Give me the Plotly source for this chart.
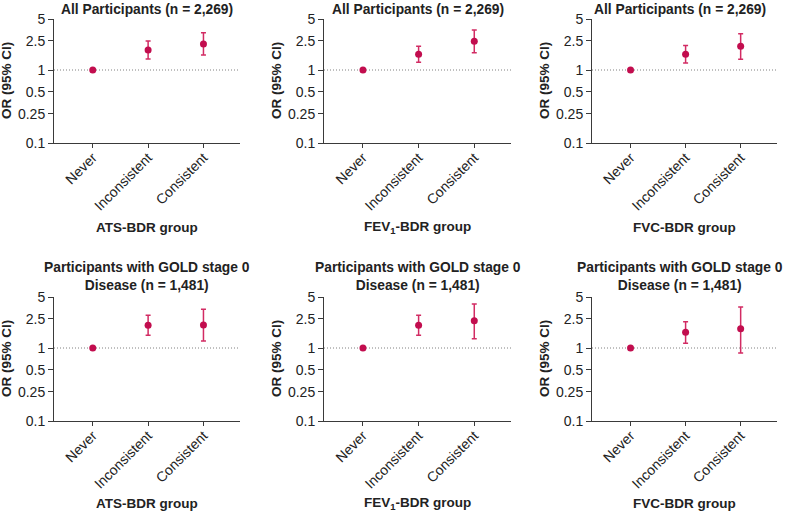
import plotly.graph_objects as go

groups = ["Never", "Inconsistent", "Consistent"]

panel_titles = [
    "All Participants (n = 2,269)",
    "All Participants (n = 2,269)",
    "All Participants (n = 2,269)",
    "Participants with GOLD stage 0<br>Disease (n = 1,481)",
    "Participants with GOLD stage 0<br>Disease (n = 1,481)",
    "Participants with GOLD stage 0<br>Disease (n = 1,481)",
]
x_titles = ["ATS-BDR group", "FEV<sub>1</sub>-BDR group", "FVC-BDR group"] * 2

# odds ratios and 95% CI per panel (Never is the reference)
or_values = [
    [1, 1.88, 2.27],
    [1, 1.64, 2.47],
    [1, 1.64, 2.11],
    [1, 2.05, 2.07],
    [1, 2.05, 2.37],
    [1, 1.64, 1.84],
]
ci_low = [
    [None, 1.42, 1.61],
    [None, 1.28, 1.73],
    [None, 1.25, 1.40],
    [None, 1.49, 1.25],
    [None, 1.49, 1.34],
    [None, 1.16, 0.855],
]
ci_high = [
    [None, 2.50, 3.25],
    [None, 2.11, 3.53],
    [None, 2.16, 3.15],
    [None, 2.81, 3.39],
    [None, 2.81, 4.01],
    [None, 2.29, 3.65],
]

y_tickvals = [0.1, 0.25, 0.5, 1, 2.5, 5]
y_ticktext = ["0.1", "0.25", "0.5", "1", "2.5", "5"]

W, H = 788, 515
point_color = "#C20D4E"
bar_color = "#D22B63"
axis_color = "#3a3a3a"
font_family = "Liberation Sans, Arial, sans-serif"

# pixel boxes of each plot area (left, right, top, bottom)
col_x = [(54, 240), (324, 511), (592, 777)]
row_y = [(19, 143), (297, 421)]
title_shift = [0, 0, -5]

fig = go.Figure()
layout = {}
annotations = []

for i in range(6):
    r, c = divmod(i, 3)
    x0, x1 = col_x[c]
    y0, y1 = row_y[r]
    n = i + 1
    xa = "x" if n == 1 else f"x{n}"
    ya = "y" if n == 1 else f"y{n}"

    ys = or_values[i]
    plus = [None if h is None else h - v for h, v in zip(ci_high[i], ys)]
    minus = [None if l is None else v - l for l, v in zip(ci_low[i], ys)]

    # reference line at OR = 1
    fig.add_trace(go.Scatter(
        x=[-0.7, 2.66], y=[1, 1], mode="lines",
        line=dict(color="#808080", width=1, dash="1px,2px"),
        xaxis=xa, yaxis=ya, showlegend=False, hoverinfo="skip"
    ))

    fig.add_trace(go.Scatter(
        x=list(range(len(groups))), y=ys, mode="markers",
        marker=dict(color=point_color, size=7),
        error_y=dict(type="data", array=plus, arrayminus=minus,
                     color=bar_color, thickness=1.5, width=2.5),
        xaxis=xa, yaxis=ya, showlegend=False
    ))

    layout["xaxis" if n == 1 else f"xaxis{n}"] = dict(
        domain=[x0 / W, x1 / W], anchor=ya, automargin=False,
        range=[-0.7, 2.66],
        tickvals=list(range(len(groups))), ticktext=groups,
        tickangle=-45, ticks="outside", ticklen=4, tickcolor=axis_color,
        ticklabelstandoff=-4,
        showline=True, linecolor=axis_color, linewidth=1,
        showgrid=False, zeroline=False,
        tickfont=dict(size=14, color="#222"),
    )
    layout["yaxis" if n == 1 else f"yaxis{n}"] = dict(
        domain=[1 - y1 / H, 1 - y0 / H], anchor=xa, automargin=False,
        type="log", range=[-1, 0.69897],
        tickvals=y_tickvals, ticktext=y_ticktext,
        ticks="outside", ticklen=5, tickcolor=axis_color,
        showline=True, linecolor=axis_color, linewidth=1,
        showgrid=False, zeroline=False,
        tickfont=dict(size=14, color="#222"),
    )

    xc = (x0 + x1) / 2
    # panel title
    title_y = 9 if r == 0 else 276
    annotations.append(dict(
        text="<b>" + panel_titles[i] + "</b>",
        x=(xc + title_shift[c]) / W, y=1 - title_y / H,
        xref="paper", yref="paper", showarrow=False,
        xanchor="center", yanchor="middle",
        font=dict(size=13.8, color="#222"),
    ))
    # x axis title
    xt_y = 227 if r == 0 else 503
    annotations.append(dict(
        text="<b>" + x_titles[i] + "</b>", x=xc / W, y=1 - xt_y / H,
        xref="paper", yref="paper", showarrow=False,
        xanchor="center", yanchor="middle",
        font=dict(size=13.5, color="#222"),
    ))
    # y axis title
    annotations.append(dict(
        text="<b>OR (95% CI)</b>", x=(x0 - 48) / W, y=1 - ((y0 + y1) / 2) / H,
        xref="paper", yref="paper", showarrow=False, textangle=-90,
        xanchor="center", yanchor="middle",
        font=dict(size=13.5, color="#222"),
    ))

fig.update_layout(
    width=W, height=H,
    margin=dict(l=0, r=0, t=0, b=0),
    plot_bgcolor="white", paper_bgcolor="white",
    font=dict(family=font_family, color="#222"),
    annotations=annotations,
    **layout
)

# the page body has a default 8px margin; drop it so the figure fills the window
fig.write_html("out.html", config={"displayModeBar": False},
               post_script="document.body.style.margin='0';")
